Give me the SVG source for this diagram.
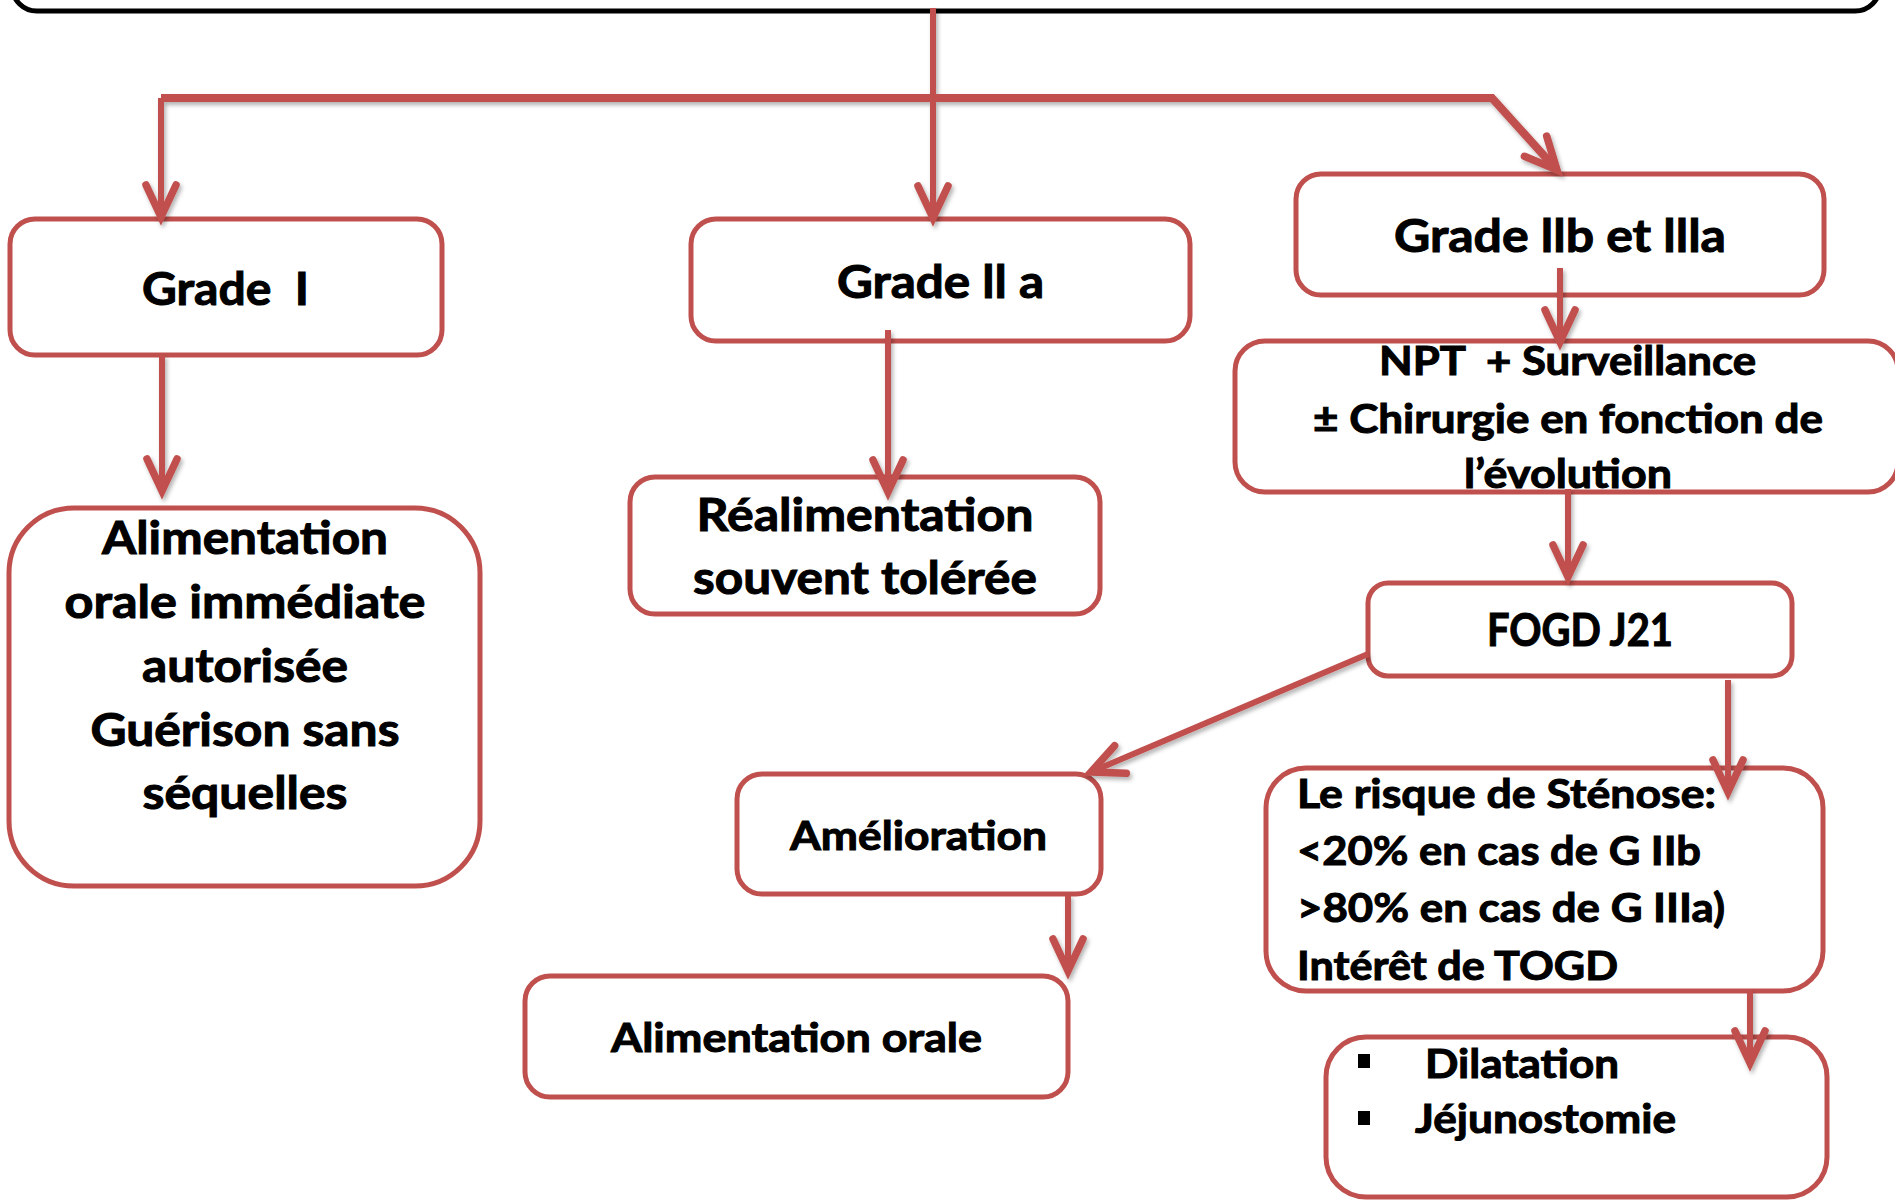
<svg xmlns="http://www.w3.org/2000/svg" width="1895" height="1200" viewBox="0 0 1895 1200">
<style>
.box{fill:#fff;stroke:#C0504D;stroke-width:5}
.top{fill:#fff;stroke:#000;stroke-width:5}
.con{fill:none;stroke:#C0504D;stroke-width:6}
.trunk{fill:none;stroke:#C0504D;stroke-width:8}
text{font-family:Lato,"Open Sans","Liberation Sans",sans-serif;font-weight:700;fill:#000;stroke:#000;stroke-width:1;white-space:pre}
.c{text-anchor:middle}
.f46{font-size:46px}
.f44{font-size:45px}
.f40{font-size:40px}
</style>
<defs>
<marker id="ah" markerUnits="userSpaceOnUse" markerWidth="80" markerHeight="80" viewBox="-40 -40 80 80" refX="0" refY="0" orient="auto" overflow="visible">
<path d="M-32,-15 L0,0 L-32,15" fill="none" stroke="#C0504D" stroke-width="7.5" stroke-linejoin="miter" stroke-linecap="round"/>
</marker>
<filter id="sh" x="-10%" y="-10%" width="120%" height="120%">
<feDropShadow dx="2" dy="3" stdDeviation="2" flood-color="#000" flood-opacity="0.3"/>
</filter>
</defs>

<g id="top-box"><rect class="top" x="12" y="-40" width="1868" height="51" rx="25"/></g>

<g id="grade-1">
<rect class="box" x="10" y="219" width="432" height="136" rx="25"/>
<text class="c f46" x="225.5" y="305" textLength="167" lengthAdjust="spacingAndGlyphs">Grade  I</text>
</g>
<g id="grade-2a">
<rect class="box" x="691" y="219" width="499" height="122" rx="25"/>
<text class="c f46" x="940.5" y="298" textLength="207" lengthAdjust="spacingAndGlyphs">Grade ll a</text>
</g>
<g id="grade-2b-3a">
<rect class="box" x="1296" y="174" width="528" height="121" rx="25"/>
<text class="c f46" x="1560" y="252" textLength="332" lengthAdjust="spacingAndGlyphs">Grade llb et llla</text>
</g>
<g id="npt">
<rect class="box" x="1235" y="341" width="663" height="151" rx="30"/>
<text class="c f40" x="1567.5" y="375" textLength="377" lengthAdjust="spacingAndGlyphs">NPT  + Surveillance</text>
<text class="c f40" x="1568" y="433" textLength="510" lengthAdjust="spacingAndGlyphs">± Chirurgie en fonction de</text>
<text class="c f40" x="1568" y="488" textLength="208" lengthAdjust="spacingAndGlyphs">l’évolution</text>
</g>
<g id="alimentation-immediate">
<rect class="box" x="9" y="508" width="471" height="378" rx="65"/>
<text class="c f44" x="245" y="554" textLength="286" lengthAdjust="spacingAndGlyphs">Alimentation</text>
<text class="c f44" x="245" y="618" textLength="361" lengthAdjust="spacingAndGlyphs">orale immédiate</text>
<text class="c f44" x="245" y="682" textLength="206" lengthAdjust="spacingAndGlyphs">autorisée</text>
<text class="c f44" x="245" y="746" textLength="309" lengthAdjust="spacingAndGlyphs">Guérison sans</text>
<text class="c f44" x="245" y="809" textLength="205" lengthAdjust="spacingAndGlyphs">séquelles</text>
</g>
<g id="realimentation">
<rect class="box" x="630" y="477" width="470" height="137" rx="25"/>
<text class="c f46" x="865" y="531" textLength="337" lengthAdjust="spacingAndGlyphs">Réalimentation</text>
<text class="c f46" x="865" y="594" textLength="344" lengthAdjust="spacingAndGlyphs">souvent tolérée</text>
</g>
<g id="fogd">
<rect class="box" x="1368" y="583" width="424" height="93" rx="20"/>
<text class="c f44" x="1580" y="646" textLength="186" lengthAdjust="spacingAndGlyphs">FOGD J21</text>
</g>
<g id="amelioration">
<rect class="box" x="737" y="774" width="364" height="120" rx="25"/>
<text class="c f40" x="918.5" y="850" textLength="257" lengthAdjust="spacingAndGlyphs">Amélioration</text>
</g>
<g id="alimentation-orale">
<rect class="box" x="525" y="976" width="543" height="121" rx="25"/>
<text class="c f40" x="796.5" y="1052" textLength="371" lengthAdjust="spacingAndGlyphs">Alimentation orale</text>
</g>
<g id="risque">
<rect class="box" x="1266" y="768" width="557" height="223" rx="40"/>
<text class="f40" x="1297" y="808" textLength="419" lengthAdjust="spacingAndGlyphs">Le risque de Sténose:</text>
<text class="f40" x="1297" y="865" textLength="404" lengthAdjust="spacingAndGlyphs">&lt;20% en cas de G IIb</text>
<text class="f40" x="1297" y="922" textLength="428" lengthAdjust="spacingAndGlyphs">&gt;80% en cas de G IIIa)</text>
<text class="f40" x="1297" y="980" textLength="321" lengthAdjust="spacingAndGlyphs">Intérêt de TOGD</text>
</g>
<g id="traitement">
<rect class="box" x="1326" y="1037" width="501" height="160" rx="40"/>
<rect x="1358" y="1054" width="12" height="14" fill="#000"/>
<rect x="1358" y="1111" width="12" height="14" fill="#000"/>
<text class="f40" x="1425" y="1078" textLength="194" lengthAdjust="spacingAndGlyphs">Dilatation</text>
<text class="f40" x="1415" y="1133" textLength="261" lengthAdjust="spacingAndGlyphs">Jéjunostomie</text>
</g>

<g id="connectors" filter="url(#sh)">
<path class="con" d="M933,8 L933,218" marker-end="url(#ah)"/>
<path class="trunk" d="M161,98 L1492,98 L1557,170" marker-end="url(#ah)"/>
<path class="con" d="M161,98 L161,217" marker-end="url(#ah)"/>
<path class="con" d="M162,355 L162,491" marker-end="url(#ah)"/>
<path class="con" d="M888,330 L888,492" marker-end="url(#ah)"/>
<path class="con" d="M1560,268 L1560,342" marker-end="url(#ah)"/>
<path class="con" d="M1568,489 L1568,577" marker-end="url(#ah)"/>
<path class="con" d="M1368,654 L1091,772" marker-end="url(#ah)"/>
<path class="con" d="M1068,895 L1068,971" marker-end="url(#ah)"/>
<path class="con" d="M1728,680 L1728,792" marker-end="url(#ah)"/>
<path class="con" d="M1750,990 L1750,1063" marker-end="url(#ah)"/>
</g>
</svg>
